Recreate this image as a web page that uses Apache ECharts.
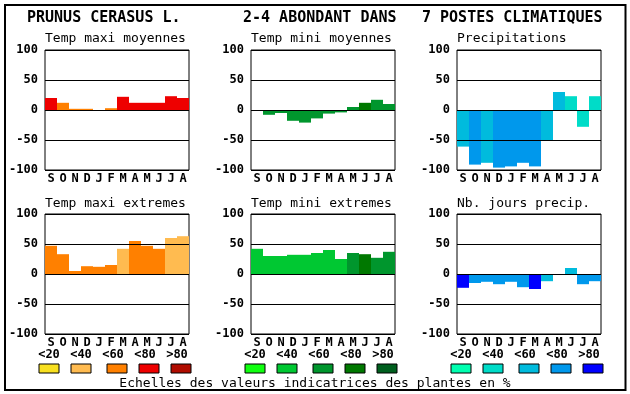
<!DOCTYPE html>
<html><head><meta charset="utf-8">
<script src="https://cdn.jsdelivr.net/npm/echarts@6/dist/echarts.min.js"></script>
<style>html,body{margin:0;padding:0;background:#fff}#c{width:630px;height:394px}</style>
</head><body><div id="c"></div>
<script>
const months = ['S','O','N','D','J','F','M','A','M','J','J','A'];
const yMin = -100, yMax = 100, yStep = 50;
const classLabels = ['<20','<40','<60','<80','>80'];
const warmColors = ['#F8E020','#FFBB50','#FF8000','#EE0000','#B00C00'];
const greenColors = ['#10FF10','#00C832','#00962D','#007800','#005F1E'];
const blueColors = ['#00FFB0','#00DCC8','#00BBDD','#0098EC','#0000FF'];
const titles = ['PRUNUS CERASUS L.','2-4 ABONDANT DANS','7 POSTES CLIMATIQUES'];
const panelTitles = ['Temp maxi moyennes','Temp mini moyennes','Precipitations','Temp maxi extremes','Temp mini extremes','Nb. jours precip.'];
const footer = 'Echelles des valeurs indicatrices des plantes en %';

const tmaxMoy = [20,12,2,2,0,3,22,12,12,12,23,20];
const tmaxMoyCls = [3,2,2,2,2,2,3,3,3,3,3,3];
const tminMoy = [0,-8,-5,-18,-21,-14,-6,-4,5,12,17,10];
const tminMoyCls = [2,2,2,2,2,2,2,2,2,3,2,2];
const precip = [-61,-91,-88,-96,-94,-88,-94,-50,30,23,-28,23];
const precipCls = [2,3,2,3,3,3,3,2,2,1,1,1];
const tmaxExt = [47,33,5,13,12,15,42,55,47,42,60,63];
const tmaxExtCls = [2,2,2,2,2,2,1,2,2,2,1,1];
const tminExt = [42,30,30,32,32,35,40,25,35,33,27,37];
const tminExtCls = [1,1,1,1,1,1,1,1,2,3,2,2];
const nbJours = [-23,-15,-13,-17,-13,-22,-25,-12,0,10,-17,-12];
const nbJoursCls = [4,3,3,3,3,3,4,2,2,2,3,3];

const panels = [
  {vals:tmaxMoy, cls:tmaxMoyCls, pal:warmColors},
  {vals:tminMoy, cls:tminMoyCls, pal:greenColors},
  {vals:precip, cls:precipCls, pal:blueColors},
  {vals:tmaxExt, cls:tmaxExtCls, pal:warmColors},
  {vals:tminExt, cls:tminExtCls, pal:greenColors},
  {vals:nbJours, cls:nbJoursCls, pal:blueColors}
];
const colLeft = [45, 251, 457];
const rowTop = [50, 214];
const FONT = 'DejaVu Sans Mono';

const grids = [], xAxes = [], yAxes = [], series = [], graphics = [];
panels.forEach((p, i) => {
  const c = i % 3, r = Math.floor(i / 3);
  grids.push({left: colLeft[c], top: rowTop[r], width: 144, height: 120,
    show: true, borderColor: '#000', borderWidth: 1, backgroundColor: '#fff'});
  xAxes.push({type: 'category', gridIndex: i, data: months, position: 'bottom',
    axisLine: {show: false, onZero: false}, axisTick: {show: false}, splitLine: {show: false},
    axisLabel: {color: '#000', fontFamily: FONT, fontWeight: 'bold', fontSize: 12, margin: 3, interval: 0}});
  yAxes.push({type: 'value', gridIndex: i, min: yMin, max: yMax, interval: yStep, z: 10,
    axisLine: {show: false}, axisTick: {show: false},
    splitLine: {show: true, lineStyle: {color: '#000', width: 1}},
    axisLabel: {color: '#000', fontFamily: FONT, fontWeight: 'bold', fontSize: 12, margin: 7}});
  series.push({type: 'bar', xAxisIndex: i, yAxisIndex: i, barWidth: '100%', barGap: '0%',
    silent: true, animation: false,
    data: p.vals.map((v, k) => ({value: v, itemStyle: {color: p.pal[p.cls[k]]}}))});
  graphics.push({type: 'text', x: colLeft[c], y: r ? 204 : 39,
    style: {text: panelTitles[i], font: '13px "' + FONT + '"', fill: '#000', align: 'left', verticalAlign: 'middle'}});
});

// main titles
const titleX = [27, 243, 422];
titles.forEach((t, i) => {
  graphics.push({type: 'text', x: titleX[i], y: 18.5,
    style: {text: t, font: 'bold 15px "' + FONT + '"', fill: '#000', align: 'left', verticalAlign: 'middle'}});
});

// legends under bottom panels
const pals = [warmColors, greenColors, blueColors];
const boxOffsets = [-6, 26, 62, 94, 126];
const labelCenters = [4, 36, 68, 100, 132];
pals.forEach((pal, c) => {
  pal.forEach((col, k) => {
    graphics.push({type: 'rect', shape: {x: colLeft[c] + boxOffsets[k], y: 364, width: 20, height: 9},
      style: {fill: col, stroke: '#000', lineWidth: 1}});
    graphics.push({type: 'text', x: colLeft[c] + labelCenters[k], y: 354.5,
      style: {text: classLabels[k], font: 'bold 12px "' + FONT + '"', fill: '#000', align: 'center', verticalAlign: 'middle'}});
  });
});
graphics.push({type: 'text', x: 315, y: 383.5,
  style: {text: footer, font: '13px "' + FONT + '"', fill: '#000', align: 'center', verticalAlign: 'middle'}});
graphics.push({type: 'rect', shape: {x: 5, y: 5, width: 620.5, height: 385}, z: 100,
  style: {fill: 'none', stroke: '#000', lineWidth: 2}});

const chart = echarts.init(document.getElementById('c'), null, {renderer: 'canvas'});
chart.setOption({animation: false, backgroundColor: '#fff', grid: grids, xAxis: xAxes, yAxis: yAxes, series: series, graphic: graphics});
</script></body></html>
